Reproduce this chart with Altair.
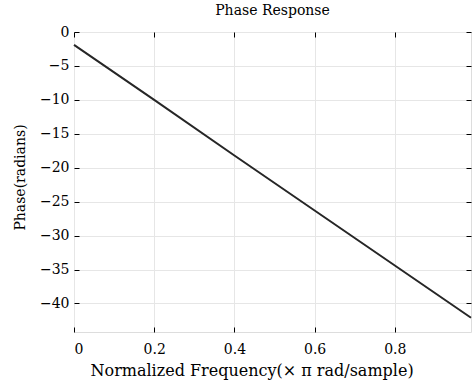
import altair as alt
import pandas as pd

# values
freq = [0.0, 0.2, 0.4, 0.6, 0.8, 0.99]
phase = [-1.9, -10.0, -18.2, -26.3, -34.4, -42.1]
x_ticks = [0, 0.2, 0.4, 0.6, 0.8]
y_ticks = [0, -5, -10, -15, -20, -25, -30, -35, -40]

df = pd.DataFrame({"freq": freq, "phase": phase})

FONT = "DejaVu Serif"
xscale = alt.Scale(domain=[0, 0.99], nice=False, zero=False)
yscale = alt.Scale(domain=[-44.2, 0], nice=False, zero=False)

common = dict(domain=False, tickColor="#000000", tickSize=5, offset=-5,
              labelFont=FONT, labelFontSize=14, labelColor="#000000",
              titleFont=FONT, titleColor="#000000", format="~g",
              titleFontWeight="normal", gridColor="#e6e6e6", gridWidth=1)

line = alt.Chart(df).mark_line(color="#262626", strokeWidth=2).encode(
    x=alt.X("freq:Q", scale=xscale,
            axis=alt.Axis(orient="bottom", values=x_ticks, grid=True,
                          title="Normalized Frequency(× π  rad/sample)",
                          titleFontSize=16, titleX=16, titleAlign="left",
                          labelPadding=10, titlePadding=6, **common)),
    y=alt.Y("phase:Q", scale=yscale,
            axis=alt.Axis(orient="left", values=y_ticks, grid=True,
                          title="Phase(radians)", titleFontSize=14,
                          titleY=145,
                          labelPadding=5, titlePadding=12, **common)),
)

frame = alt.Chart(df).mark_line(opacity=0).encode(
    x=alt.X("freq:Q", scale=xscale,
            axis=alt.Axis(orient="top", values=x_ticks, grid=False,
                          labels=False, title=None, domain=False,
                          tickColor="#000000", tickSize=5, offset=-5)),
    y=alt.Y("phase:Q", scale=yscale,
            axis=alt.Axis(orient="right", values=y_ticks, grid=False,
                          labels=False, title=None, domain=False,
                          tickColor="#000000", tickSize=5, offset=-5)),
)

chart = alt.layer(line, frame).resolve_axis(x="independent", y="independent").properties(
    width=397,
    height=300,
    autosize=alt.AutoSizeParams(type="none"),
    padding={"left": 74, "top": 32, "right": 1, "bottom": 51},
    title=alt.TitleParams("Phase Response", font=FONT, fontSize=14,
                          fontWeight="normal", color="#000000", offset=7),
).configure_view(stroke="#000000", strokeWidth=1).configure(background="white")

chart.save("out.html", embed_options={"renderer": "svg", "actions": False})
